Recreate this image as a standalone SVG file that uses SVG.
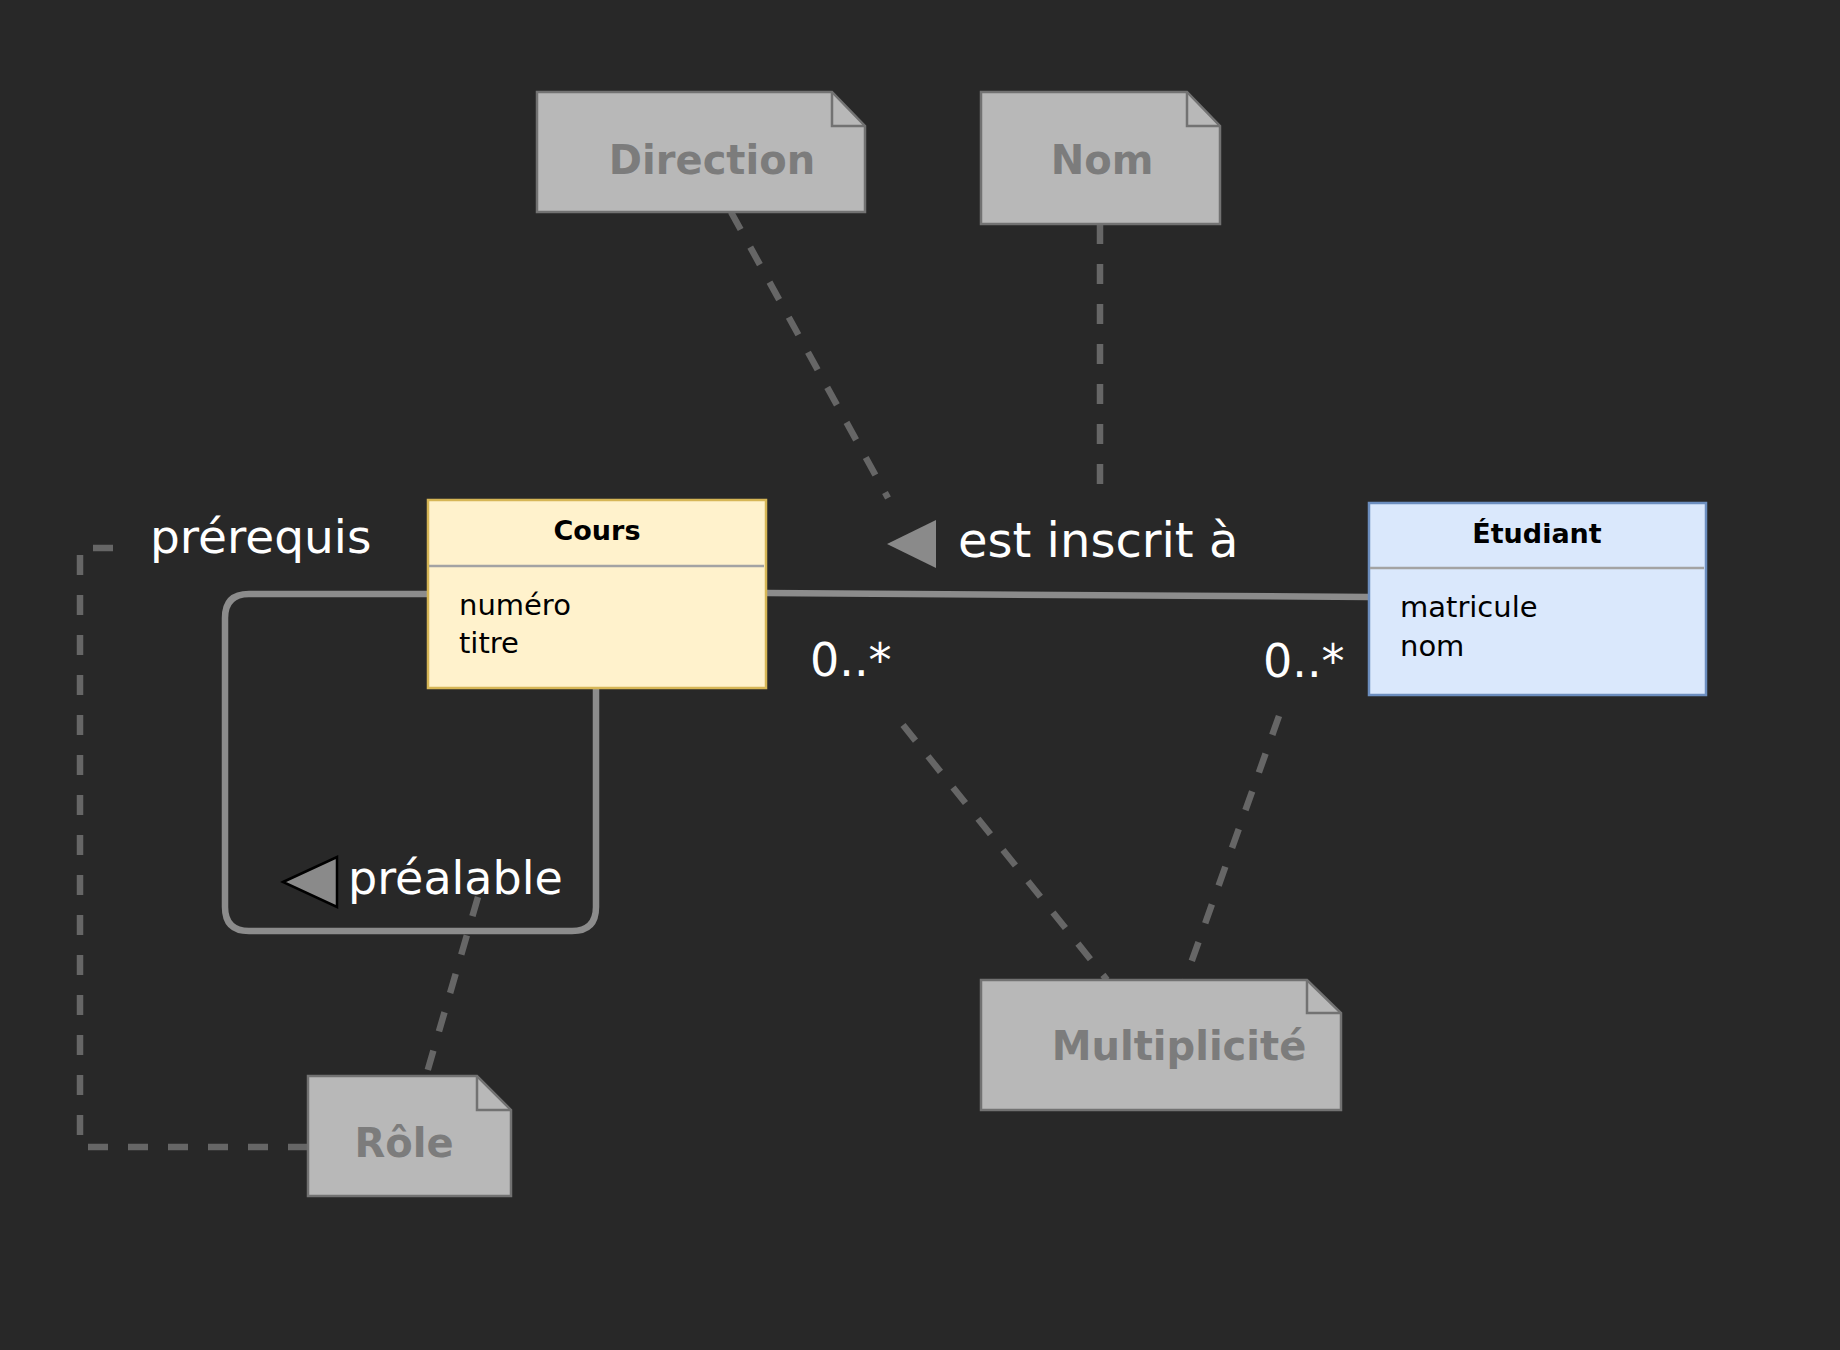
<svg xmlns="http://www.w3.org/2000/svg" width="1840" height="1350" viewBox="0 0 1840 1350">
<style>
text { font-family: "DejaVu Sans", "Noto Sans", sans-serif; }
.lbl { fill: #ffffff; font-size: 46px; }
.hdr { fill: #000000; font-size: 27px; font-weight: bold; text-anchor: middle; }
.attr { fill: #000000; font-size: 29px; }
.notebody { fill: #b8b8b8; stroke: #727272; stroke-width: 2.5; }
.notefold { fill: none; stroke: #727272; stroke-width: 2.5; }
.notetxt { fill: #7c7c7c; font-size: 40px; font-weight: bold; }
.solid { fill: none; stroke: #8c8c8c; stroke-width: 6.5; }
.dash { fill: none; stroke: #666666; stroke-width: 6.5; stroke-dasharray: 20 20; }
.sep { stroke: #a3a3a3; stroke-width: 2.5; }
</style>
<rect x="0" y="0" width="1840" height="1350" fill="#282828"/>

<g id="connectors">
  <path class="dash" d="M731,212 L888,498"/>
  <path class="dash" d="M1100,224 L1100,503"/>
  <path class="dash" d="M903,725 L1107,980"/>
  <path class="dash" d="M1279,716 L1185,980"/>
  <path class="dash" d="M478,897 L426,1076"/>
  <path class="dash" d="M308,1147 L80,1147 L80,548 L128,548"/>
  <path class="solid" d="M766,593 L1369,597"/>
  <path class="solid" d="M428,594 L249,594 Q225,594 225,618 L225,907 Q225,931 249,931 L572,931 Q596,931 596,907 L596,688"/>
  <polygon points="887,544 936,520 936,568" fill="#8a8a8a"/>
  <polygon points="283,882 337,857 337,907" fill="#8a8a8a" stroke="#000000" stroke-width="2.5"/>
  <text class="lbl" x="958" y="557" style="font-size:48px">est inscrit à</text>
  <text class="lbl" x="150" y="553" style="font-size:47px">prérequis</text>
  <text class="lbl" x="348" y="894">préalable</text>
  <text class="lbl" x="810" y="676">0..*</text>
  <text class="lbl" x="1263" y="677">0..*</text>
</g>

<g id="cours">
  <rect x="428" y="500" width="338" height="188" fill="#fff2cc" stroke="#d6b656" stroke-width="2.5"/>
  <line class="sep" x1="429" y1="566" x2="764" y2="566"/>
  <text class="hdr" x="597" y="540">Cours</text>
  <text class="attr" x="459" y="615">numéro</text>
  <text class="attr" x="459" y="653">titre</text>
</g>

<g id="etudiant">
  <rect x="1369" y="503" width="337" height="192" fill="#dae8fc" stroke="#6c8ebf" stroke-width="2.5"/>
  <line class="sep" x1="1370" y1="568" x2="1704" y2="568"/>
  <text class="hdr" x="1537" y="543">Étudiant</text>
  <text class="attr" x="1400" y="617">matricule</text>
  <text class="attr" x="1400" y="656">nom</text>
</g>

<g id="note-direction">
  <path class="notebody" d="M537,92 L832,92 L865,126 L865,212 L537,212 Z"/>
  <path class="notefold" d="M832,92 L832,126 L865,126"/>
  <text class="notetxt" x="712" y="174" text-anchor="middle">Direction</text>
</g>

<g id="note-nom">
  <path class="notebody" d="M981,92 L1187,92 L1220,126 L1220,224 L981,224 Z"/>
  <path class="notefold" d="M1187,92 L1187,126 L1220,126"/>
  <text class="notetxt" x="1102" y="174" text-anchor="middle">Nom</text>
</g>

<g id="note-multiplicite">
  <path class="notebody" d="M981,980 L1307,980 L1341,1013 L1341,1110 L981,1110 Z"/>
  <path class="notefold" d="M1307,980 L1307,1013 L1341,1013"/>
  <text class="notetxt" x="1179" y="1060" text-anchor="middle">Multiplicité</text>
</g>

<g id="note-role">
  <path class="notebody" d="M308,1076 L477,1076 L511,1110 L511,1196 L308,1196 Z"/>
  <path class="notefold" d="M477,1076 L477,1110 L511,1110"/>
  <text class="notetxt" x="404" y="1157" text-anchor="middle">Rôle</text>
</g>
</svg>
